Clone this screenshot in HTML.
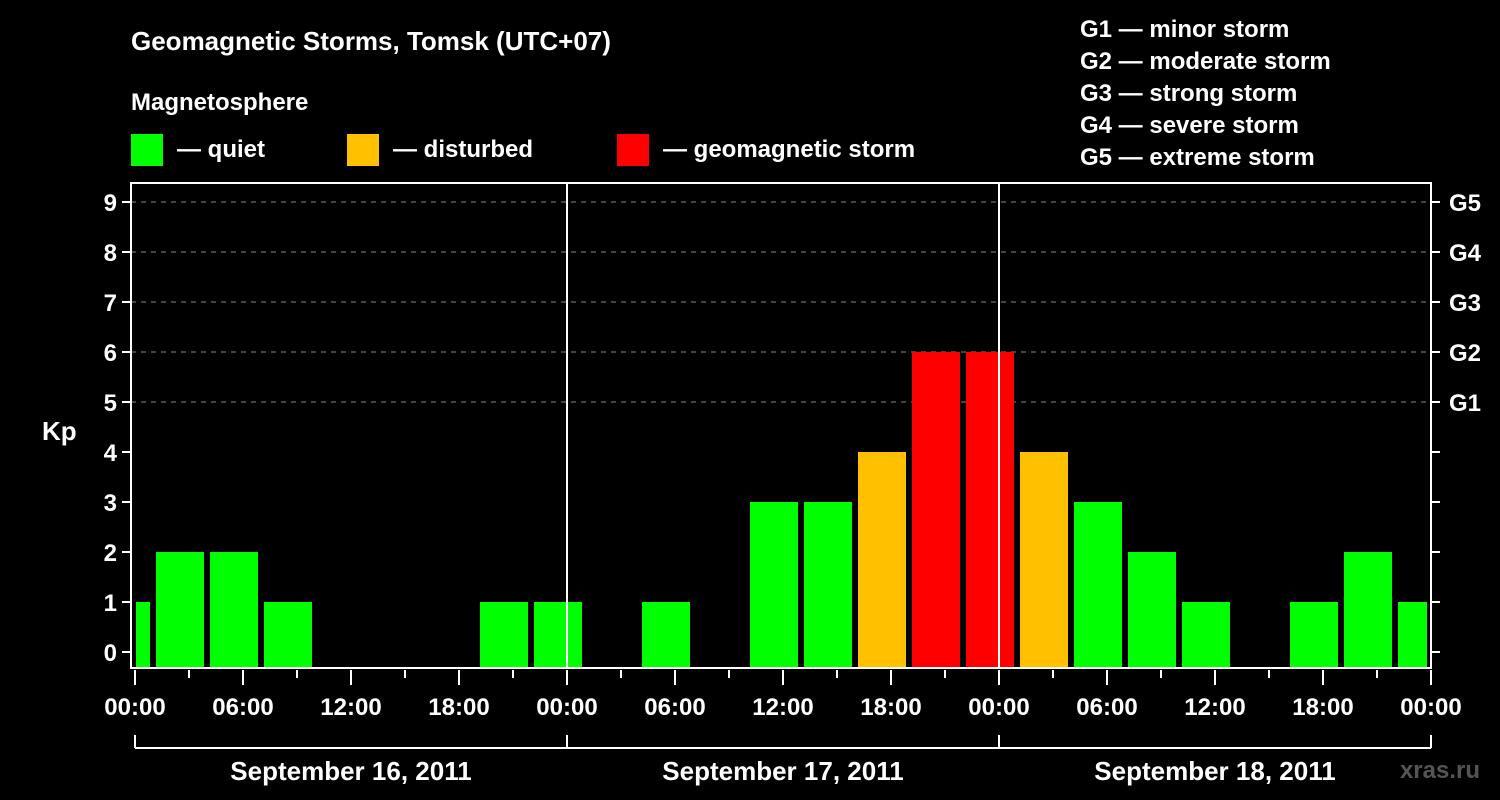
<!DOCTYPE html>
<html><head><meta charset="utf-8"><style>
html,body{margin:0;padding:0;background:#000;}
svg{display:block;font-family:"Liberation Sans",sans-serif;font-weight:bold;}
</style></head><body>
<svg id="c" width="1500" height="800" viewBox="0 0 1500 800">
<text x="131" y="50" fill="#fff" font-size="26">Geomagnetic Storms, Tomsk (UTC+07)</text>
<text x="131" y="110" fill="#fff" font-size="24">Magnetosphere</text>
<g><rect x="131" y="134" width="32" height="32" fill="#00ff00"/><text x="177" y="157" fill="#fff" font-size="24">— quiet</text></g>
<g><rect x="347" y="134" width="32" height="32" fill="#ffc000"/><text x="393" y="157" fill="#fff" font-size="24">— disturbed</text></g>
<g><rect x="617" y="134" width="32" height="32" fill="#ff0000"/><text x="663" y="157" fill="#fff" font-size="24">— geomagnetic storm</text></g>
<g fill="#fff" font-size="24">
<text x="1080" y="37">G1 — minor storm</text>
<text x="1080" y="69">G2 — moderate storm</text>
<text x="1080" y="101">G3 — strong storm</text>
<text x="1080" y="133">G4 — severe storm</text>
<text x="1080" y="165">G5 — extreme storm</text>
</g>
<text x="42" y="440" fill="#fff" font-size="26">Kp</text>
<text x="1480" y="778" fill="#555" font-size="24" text-anchor="end">xras.ru</text>
<g id="plot"></g>
</svg>
<script>
const kpValues=[1,2,2,1,0,0,0,1,1,0,1,0,3,3,4,6,6,4,3,2,1,0,1,2,1];
const binStartHours=[-2,1,4,7,10,13,16,19,22,25,28,31,34,37,40,43,46,49,52,55,58,61,64,67,70];
const dayLabels=["September 16, 2011","September 17, 2011","September 18, 2011"];
const kpTicks=[0,1,2,3,4,5,6,7,8,9];
const gLabels=["G1","G2","G3","G4","G5"];
const gLevels=[5,6,7,8,9];
const timeLabels=["00:00","06:00","12:00","18:00"];

const X0=135,PXH=18,L=131,R=1431,T=183,B=668;
const x=h=>X0+h*PXH;
const y=v=>652-v*50;
const NS="http://www.w3.org/2000/svg";
const g=document.getElementById('plot');
function mk(t,a){const e=document.createElementNS(NS,t);for(const k in a)e.setAttribute(k,a[k]);g.appendChild(e);return e;}
// grid
gLevels.forEach(v=>{const e=mk('line',{x1:L,x2:R,y1:y(v),y2:y(v),stroke:'#888','stroke-width':1,'stroke-dasharray':'5,5'});

});
// bars
kpValues.forEach((v,i)=>{if(v<=0)return;
const h=binStartHours[i];let x1=Math.max(x(h)+3,L+5),x2=Math.min(x(h+3)-3,R-4);
const col=v>=5?'#ff0000':(v>=4?'#ffc000':'#00ff00');
const e=mk('rect',{x:x1,y:y(v),width:x2-x1,height:B-y(v),fill:col});

});
// day separators
[1,2].forEach(d=>{const e=mk('line',{x1:x(24*d),x2:x(24*d),y1:T,y2:B,stroke:'#fff','stroke-width':2});

});
// frame
const fr=mk('rect',{x:L,y:T,width:R-L,height:B-T,fill:'none',stroke:'#fff','stroke-width':2});


// y ticks
kpTicks.forEach(v=>{
mk('line',{x1:L-9,x2:L,y1:y(v),y2:y(v),stroke:'#fff','stroke-width':2});
mk('line',{x1:R,x2:R+9,y1:y(v),y2:y(v),stroke:'#fff','stroke-width':2});
const t=mk('text',{x:117,y:y(v)+9,fill:'#fff','font-size':24,'text-anchor':'end'});t.textContent=v;

});
gLevels.forEach((v,i)=>{const t=mk('text',{x:1449,y:y(v)+9,fill:'#fff','font-size':24});t.textContent=gLabels[i];

});
// x ticks
for(let h=0;h<=72;h+=3){const major=h%6===0;
mk('line',{x1:x(h),x2:x(h),y1:B+2,y2:major?B+17:B+10,stroke:'#fff','stroke-width':2});
if(major){const t=mk('text',{x:x(h),y:715,fill:'#fff','font-size':24,'text-anchor':'middle'});t.textContent=timeLabels[(h/6)%4];

}}
// day brackets
mk('line',{x1:x(0),x2:x(72),y1:748,y2:748,stroke:'#fff','stroke-width':2});
for(let d=0;d<=3;d++)mk('line',{x1:x(24*d),x2:x(24*d),y1:735,y2:748,stroke:'#fff','stroke-width':2});
dayLabels.forEach((s,d)=>{const t=mk('text',{x:x(24*d+12),y:780,fill:'#fff','font-size':26,'text-anchor':'middle'});t.textContent=s;

});
</script>
</body></html>
